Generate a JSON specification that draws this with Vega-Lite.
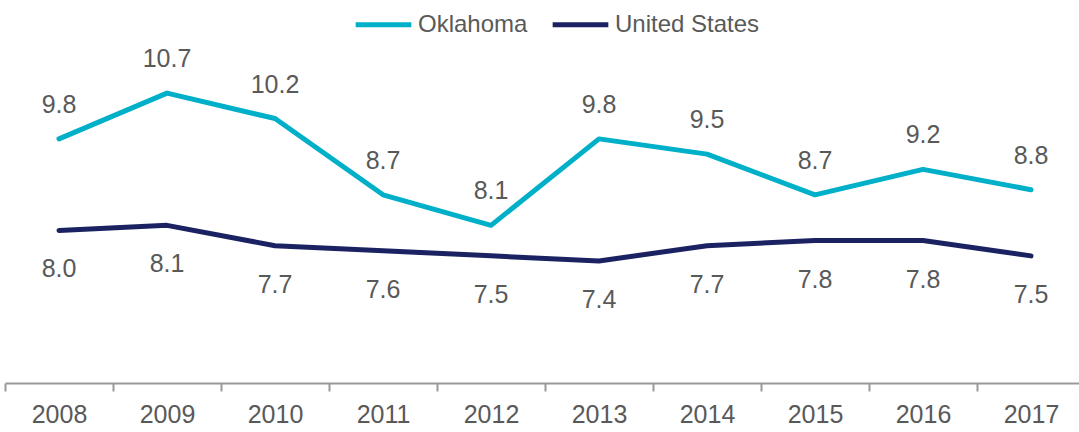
{
  "$schema": "https://vega.github.io/schema/vega-lite/v6.json",
  "autosize": {"type": "none"},
  "width": 1080,
  "height": 356,
  "padding": {"left": 5, "top": 27, "right": 0, "bottom": 49},
  "background": "white",
  "config": {
    "view": {"stroke": null},
    "font": "Liberation Sans"
  },
  "data": {
    "values": [
      {"year": "2008", "series": "Oklahoma", "value": 9.8},
      {"year": "2009", "series": "Oklahoma", "value": 10.7},
      {"year": "2010", "series": "Oklahoma", "value": 10.2},
      {"year": "2011", "series": "Oklahoma", "value": 8.7},
      {"year": "2012", "series": "Oklahoma", "value": 8.1},
      {"year": "2013", "series": "Oklahoma", "value": 9.8},
      {"year": "2014", "series": "Oklahoma", "value": 9.5},
      {"year": "2015", "series": "Oklahoma", "value": 8.7},
      {"year": "2016", "series": "Oklahoma", "value": 9.2},
      {"year": "2017", "series": "Oklahoma", "value": 8.8},
      {"year": "2008", "series": "United States", "value": 8.0},
      {"year": "2009", "series": "United States", "value": 8.1},
      {"year": "2010", "series": "United States", "value": 7.7},
      {"year": "2011", "series": "United States", "value": 7.6},
      {"year": "2012", "series": "United States", "value": 7.5},
      {"year": "2013", "series": "United States", "value": 7.4},
      {"year": "2014", "series": "United States", "value": 7.7},
      {"year": "2015", "series": "United States", "value": 7.8},
      {"year": "2016", "series": "United States", "value": 7.8},
      {"year": "2017", "series": "United States", "value": 7.5}
    ]
  },
  "encoding": {
    "x": {
      "field": "year",
      "type": "ordinal",
      "scale": {"type": "band", "paddingInner": 0, "paddingOuter": 0},
      "axis": {
        "title": null,
        "labelAngle": 0,
        "labelFont": "Liberation Sans",
        "labelFontSize": 25,
        "labelColor": "#595959",
        "labelPadding": 11,
        "domainColor": "#999999",
        "domainWidth": 2,
        "tickColor": "#999999",
        "tickWidth": 2,
        "tickSize": 8,
        "tickBand": "extent",
        "grid": false
      }
    },
    "y": {
      "field": "value",
      "type": "quantitative",
      "scale": {"domain": [5, 12], "nice": false, "zero": false},
      "axis": null
    }
  },
  "layer": [
    {
      "mark": {"type": "line", "strokeWidth": 5, "strokeCap": "round", "strokeJoin": "round"},
      "encoding": {
        "color": {
          "field": "series",
          "type": "nominal",
          "scale": {"domain": ["Oklahoma", "United States"], "range": ["#00AFC8", "#1A2262"]},
          "legend": {
            "title": null,
            "orient": "none",
            "legendX": 348,
            "legendY": -33,
            "direction": "horizontal",
            "symbolType": "stroke",
            "symbolSize": 3100,
            "symbolStrokeWidth": 5,
            "labelFont": "Liberation Sans",
            "labelFontSize": 24,
            "labelColor": "#595959",
            "labelOffset": 4,
            "columnPadding": 14
          }
        }
      }
    },
    {
      "transform": [{"filter": "datum.series === 'Oklahoma'"}],
      "mark": {"type": "text", "dy": -34, "fontSize": 25, "color": "#595959", "font": "Liberation Sans"},
      "encoding": {"text": {"field": "value", "type": "quantitative", "format": ".1f"}}
    },
    {
      "transform": [{"filter": "datum.series === 'United States'"}],
      "mark": {"type": "text", "dy": 39, "fontSize": 25, "color": "#595959", "font": "Liberation Sans"},
      "encoding": {"text": {"field": "value", "type": "quantitative", "format": ".1f"}}
    }
  ]
}
